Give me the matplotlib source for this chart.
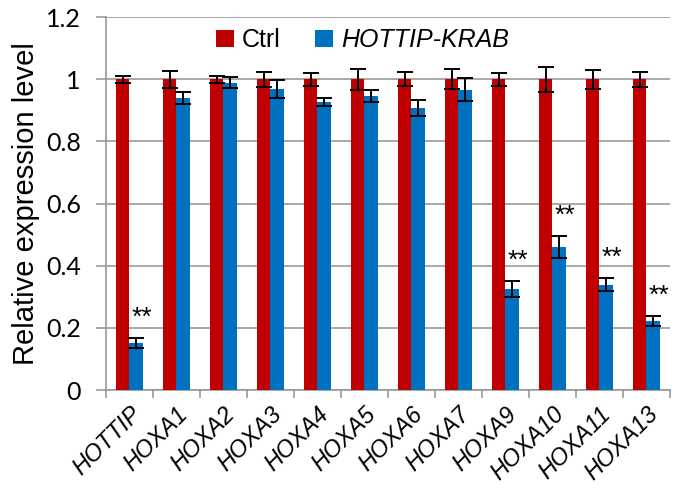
import matplotlib
matplotlib.use('Agg')
import matplotlib.pyplot as plt
import numpy as np

genes = ['HOTTIP', 'HOXA1', 'HOXA2', 'HOXA3', 'HOXA4', 'HOXA5', 'HOXA6',
         'HOXA7', 'HOXA9', 'HOXA10', 'HOXA11', 'HOXA13']
ctrl = [1.0, 1.0, 1.0, 1.0, 1.0, 1.0, 1.0, 1.0, 1.0, 1.0, 1.0, 1.0]
ctrl_err = [0.012, 0.028, 0.012, 0.025, 0.021, 0.033, 0.022, 0.032, 0.021, 0.040, 0.031, 0.025]
krab = [0.152, 0.941, 0.989, 0.969, 0.926, 0.945, 0.907, 0.967, 0.325, 0.460, 0.339, 0.222]
krab_err = [0.016, 0.019, 0.017, 0.028, 0.013, 0.019, 0.025, 0.037, 0.026, 0.035, 0.021, 0.017]
significant = [True, False, False, False, False, False, False, False, True, True, True, True]


def main() -> None:
    plt.rcParams['font.family'] = ['Liberation Sans', 'DejaVu Sans']

    fig = plt.figure(figsize=(6.78, 4.90), dpi=100)
    ax = fig.add_axes([0.156, 0.204, 0.832, 0.761])

    x = np.arange(len(genes))
    w = 0.283
    red = '#C00000'
    blue = '#0070C0'
    grey = '#9A9A9A'

    ax.bar(x - w / 2, ctrl, w, color=red, label='Ctrl', zorder=3)
    ax.bar(x + w / 2, krab, w, color=blue, label='HOTTIP-KRAB', zorder=3)
    ax.errorbar(x - w / 2, ctrl, yerr=ctrl_err, fmt='none', ecolor='black',
                elinewidth=1.4, capsize=5.5, capthick=1.4, zorder=4)
    ax.errorbar(x + w / 2, krab, yerr=krab_err, fmt='none', ecolor='black',
                elinewidth=1.4, capsize=5.5, capthick=1.4, zorder=4)

    for i, sig in enumerate(significant):
        if sig:
            ax.text(x[i] + w / 2 + 0.12, krab[i] + krab_err[i] + 0.065, '**',
                    ha='center', va='center', fontsize=19, zorder=5)

    ax.set_xlim(-0.5, len(genes) - 0.5)
    ax.set_ylim(0, 1.2)
    ax.set_yticks(np.arange(0, 1.21, 0.2))
    ax.set_yticklabels(['0', '0.2', '0.4', '0.6', '0.8', '1', '1.2'],
                       fontsize=18, family=['Lato', 'DejaVu Sans'])
    ax.yaxis.grid(True, color=grey, linewidth=1.2, zorder=0)
    ax.set_axisbelow(True)

    ax.set_xticks(np.arange(-0.5, len(genes), 1.0))
    ax.set_xticklabels([])
    ax.set_xticks(x, minor=True)
    ax.set_xticklabels(genes, minor=True, rotation=45, ha='right',
                       rotation_mode='anchor', fontsize=17, style='italic')
    ax.tick_params(axis='x', which='minor', length=0, pad=9)
    ax.tick_params(axis='x', which='major', length=6, color=grey, width=1.2)
    ax.tick_params(axis='y', length=7, color=grey, width=1.2, pad=11)

    for side in ['top', 'right']:
        ax.spines[side].set_visible(False)
    for side in ['left', 'bottom']:
        ax.spines[side].set_color(grey)
        ax.spines[side].set_linewidth(1.2)

    ax.set_ylabel('Relative expression level', fontsize=21, labelpad=4)

    leg = ax.legend(loc='center', bbox_to_anchor=(0.455, 0.938), ncol=2, frameon=False,
                    fontsize=18, handlelength=0.72, handleheight=0.72,
                    handletextpad=0.3, columnspacing=1.4)
    leg.get_texts()[1].set_style('italic')

    fig.savefig('out.png', dpi=100)


if __name__ == '__main__':
    main()
